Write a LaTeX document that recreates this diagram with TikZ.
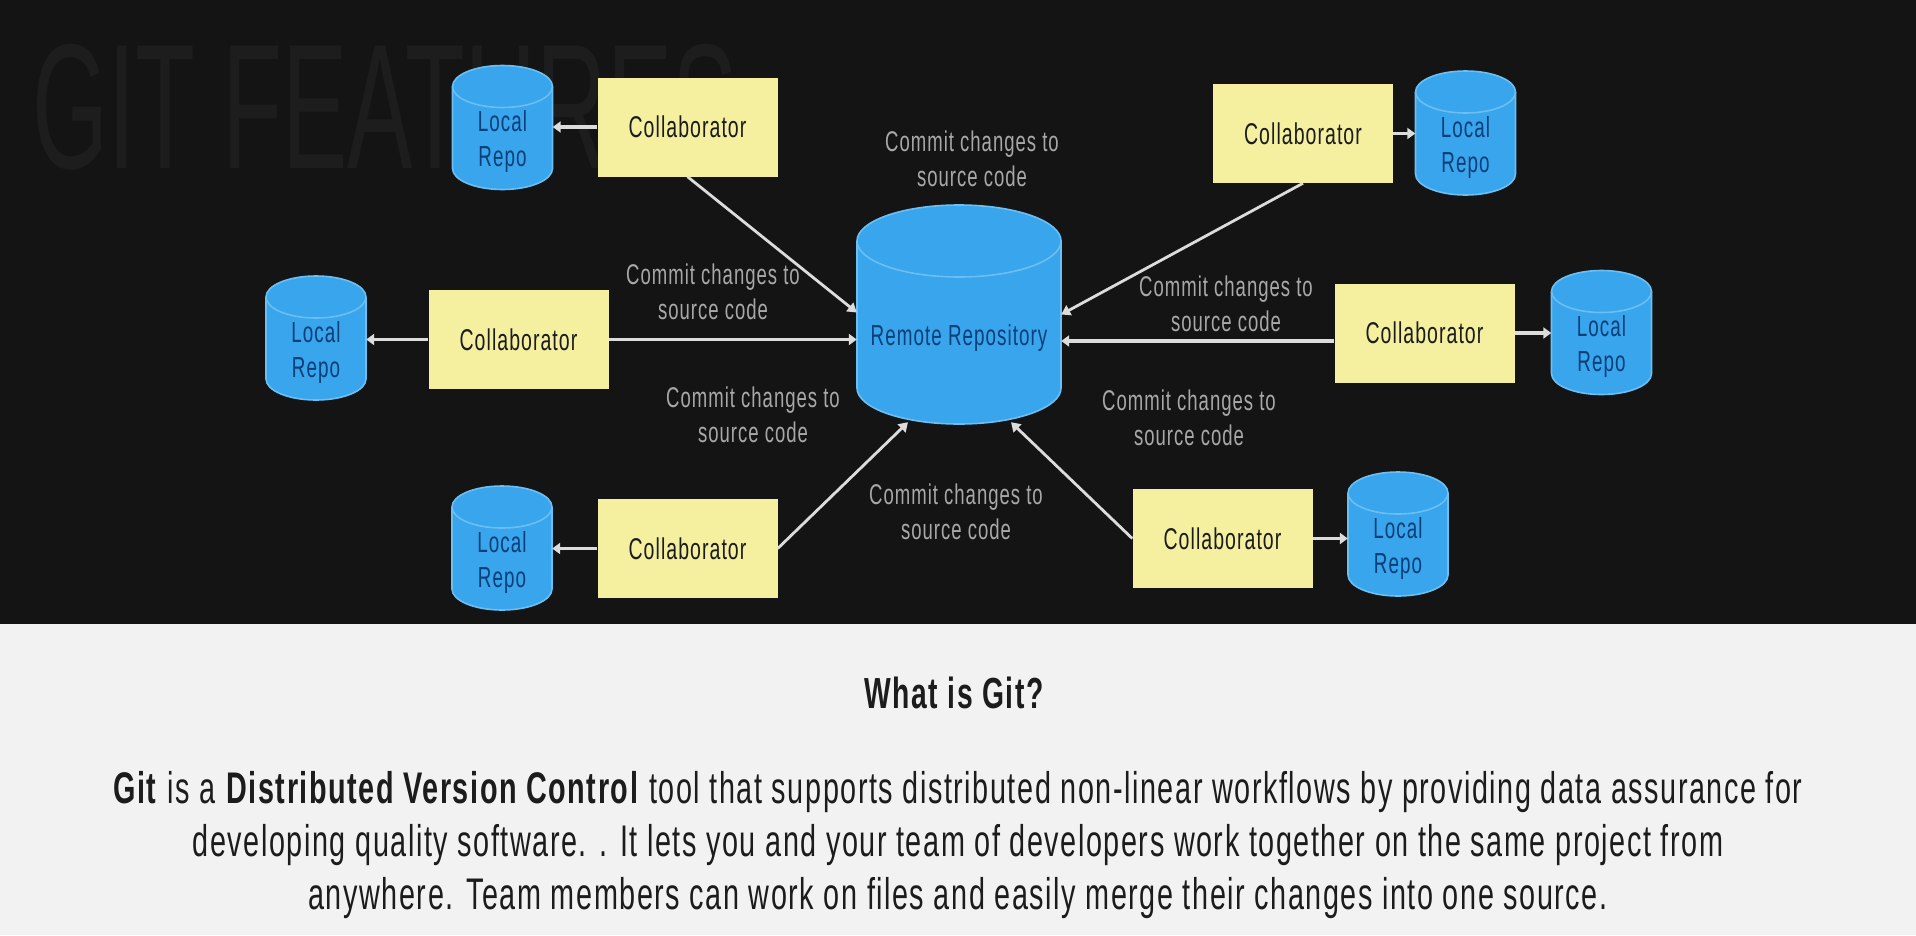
\documentclass[tikz,border=0pt]{standalone}
\usepackage{fontspec}
\setmainfont[FakeStretch=0.65,LetterSpace=3.5]{Liberation Sans}
\newfontfamily\wmfont[FakeStretch=0.55]{Liberation Sans}
\usetikzlibrary{arrows.meta,calc}
\definecolor{bgdark}{HTML}{141414}
\definecolor{bglight}{HTML}{F2F2F2}
\definecolor{boxyellow}{HTML}{F5EFA0}
\definecolor{cylblue}{HTML}{38A5EC}
\definecolor{cylline}{HTML}{6CBFF2}
\definecolor{repotext}{HTML}{0B3F78}
\definecolor{commitgrey}{HTML}{A8A8A8}
\definecolor{linegrey}{HTML}{DCDCDC}
\definecolor{inktext}{HTML}{1C1C1C}
% centre x, centre y, half width, half height, end-ellipse y radius
\newcommand\cylbody[5]{%
 \draw[draw=cylline,line width=1.6pt,fill=cylblue,line join=round]
  ({#1-#3},{#2-#4+#5}) arc[start angle=180,end angle=0,x radius=#3pt,y radius=#5pt]
  -- ({#1+#3},{#2+#4-#5}) arc[start angle=0,end angle=-180,x radius=#3pt,y radius=#5pt] -- cycle;
 \draw[draw=cylline,line width=1.6pt]
  ({#1-#3},{#2-#4+#5}) arc[start angle=180,end angle=360,x radius=#3pt,y radius=#5pt];
}
\tikzset{
 collab/.style={rectangle,fill=boxyellow,draw=none,minimum width=180pt,minimum height=99pt,inner sep=0pt,text=inktext,font=\fontsize{30}{35}\selectfont},
 localrepo/.style={rectangle,minimum width=100pt,minimum height=124pt,inner sep=0pt},
 repolabel/.style={align=center,inner sep=0pt,text=repotext,font=\fontsize{29}{35}\selectfont},
 remoterepo/.style={rectangle,minimum width=204pt,minimum height=219pt,inner sep=0pt},
 commit/.style={align=center,text=commitgrey,inner sep=0pt,font=\fontsize{28.5}{35}\selectfont},
 arr/.style={draw=linegrey,line width=3.5pt,-{Triangle[width=11pt,length=8pt]}},
 darr/.style={draw=linegrey,line width=2.8pt,-{Triangle[width=11pt,length=9pt]}},
}
\begin{document}
\begin{tikzpicture}[x=1pt,y=-1pt]
\useasboundingbox (0,0) rectangle (1916,935);
\fill[bgdark] (0,0) rectangle (1916,624);
\fill[bglight] (0,624) rectangle (1916,935);
\node[text=white!4!bgdark,inner sep=0pt,font=\wmfont\fontsize{178}{178}\selectfont] (wm) at (385,107) {GIT FEATURES};

\cylbody{959}{314.5}{102}{109.5}{36}
\node[remoterepo] (remote) at (959,314.5) {};
\node[repolabel] (remotetext) at (959,338) {Remote Repository};

\node[collab,text depth=-2pt] (c1) at (687.5,127) {Collaborator};
\node[collab,text depth=-2pt] (c2) at (1303,133.5) {Collaborator};
\node[collab,text depth=-2pt] (c3) at (518.5,339.5) {Collaborator};
\node[collab,text depth=-2pt] (c4) at (1424.5,333) {Collaborator};
\node[collab,text depth=-2pt] (c5) at (687.5,548.5) {Collaborator};
\node[collab,text depth=-2pt] (c6) at (1222.5,538.5) {Collaborator};

\cylbody{502.5}{127.5}{50}{62}{21}
\node[localrepo] (r1) at (502.5,127.5) {};
\node[repolabel] (r1t) at (502.5,141) {Local\\Repo};
\cylbody{1465.5}{133}{50}{62}{21}
\node[localrepo] (r2) at (1465.5,133) {};
\node[repolabel] (r2t) at (1465.5,147) {Local\\Repo};
\cylbody{316}{338}{50}{62}{21}
\node[localrepo] (r3) at (316,338) {};
\node[repolabel] (r3t) at (316,352) {Local\\Repo};
\cylbody{1601.5}{332.5}{50}{62}{21}
\node[localrepo] (r4) at (1601.5,332.5) {};
\node[repolabel] (r4t) at (1601.5,346) {Local\\Repo};
\cylbody{502}{548}{50}{62}{21}
\node[localrepo] (r5) at (502,548) {};
\node[repolabel] (r5t) at (502,562) {Local\\Repo};
\cylbody{1398}{534}{50}{62}{21}
\node[localrepo] (r6) at (1398,534) {};
\node[repolabel] (r6t) at (1398,548) {Local\\Repo};

\node[commit] (t1) at (972,158.5) {Commit changes to\\source code};
\node[commit] (t2) at (713,291.5) {Commit changes to\\source code};
\node[commit] (t3) at (753,414.5) {Commit changes to\\source code};
\node[commit] (t4) at (956,511.5) {Commit changes to\\source code};
\node[commit] (t5) at (1226,303.5) {Commit changes to\\source code};
\node[commit] (t6) at (1189,417.5) {Commit changes to\\source code};

\draw[arr] (c1.west) -- (c1.west -| r1.east);
\draw[arr] (c2.east) -- (c2.east -| r2.west);
\draw[arr] (c3.west) -- (c3.west -| r3.east);
\draw[arr] (c4.east) -- (c4.east -| r4.west);
\draw[arr] (c5.west) -- (c5.west -| r5.east);
\draw[arr] (c6.east) -- (c6.east -| r6.west);

\draw[darr] (c1.south) -- ($(remote.west)+(0,-2)$);
\draw[darr] (c2.south) -- (remote.east);
\draw[arr] (c3.east) -- (c3.east -| remote.west);
\draw[arr] ($(c4.west)+(0,8)$) -- ($(c4.west -| remote.east)+(0,8)$);
\draw[darr] (c5.east) -- ($(remote.south)+(-51,-2)$);
\draw[darr] (c6.west) -- ($(remote.south)+(52,-2)$);

\node[text=inktext,inner sep=0pt,font=\bfseries\fontsize{43.5}{50}\selectfont] (head) at (954,693) {What is Git?};
\node[text=inktext,inner sep=0pt,align=center,font=\fontsize{44.3}{53}\selectfont] (body) at (958,845) {\textbf{Git} is a \textbf{Distributed Version Control} tool that supports distributed non-linear workflows by providing data assurance for\\developing quality software. . It lets you and your team of developers work together on the same project from\\anywhere. Team members can work on files and easily merge their changes into one source.};
\end{tikzpicture}
\end{document}
